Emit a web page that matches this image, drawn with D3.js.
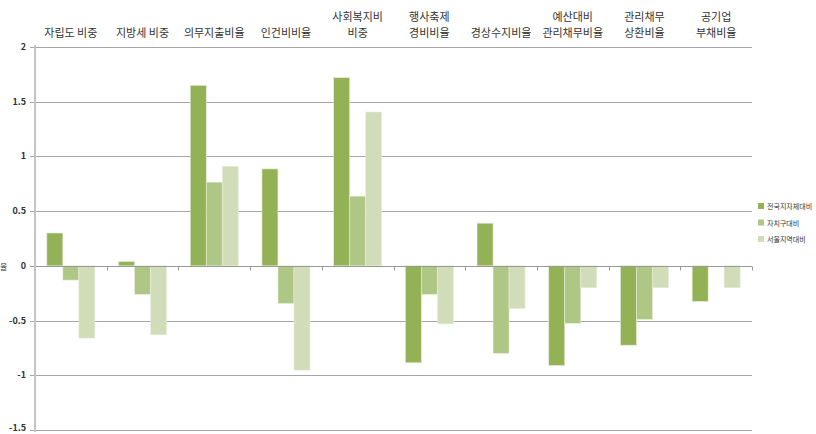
<!DOCTYPE html>
<html><head><meta charset="utf-8">
<script src="https://cdn.jsdelivr.net/npm/d3@7/dist/d3.min.js"></script>
<style>body{margin:0;background:#fff}svg{display:block}text{font-family:"Noto Sans CJK KR","Noto Sans",sans-serif}</style>
</head><body><svg id="c" width="816" height="434"></svg>
<script>
const categories = [["자립도 비중"],["지방세 비중"],["의무지출비율"],["인건비비율"],["사회복지비","비중"],["행사축제","경비비율"],["경상수지비율"],["예산대비","관리채무비율"],["관리채무","상환비율"],["공기업","부채비율"]];
const seriesNames = ["전국지자체대비","자치구대비","서울지역대비"];
const nationwide = [0.30, 0.04, 1.65, 0.886, 1.72, -0.886, 0.39, -0.91, -0.725, -0.325];
const district   = [-0.13, -0.26, 0.765, -0.344, 0.637, -0.26, -0.80, -0.525, -0.49, null];
const seoul      = [-0.66, -0.63, 0.91, -0.953, 1.406, -0.53, -0.39, -0.20, -0.20, -0.20];
const yTicks = [2, 1.5, 1, 0.5, 0, -0.5, -1, -1.5];
const colors = ["#93b155", "#afc785", "#d0ddb8"];

const svg = d3.select("#c");
const x0 = d3.scaleBand().domain(d3.range(categories.length)).range([35, 752]).padding(0);
const x1 = d3.scaleBand().domain([0,1,2]).range([0, x0.bandwidth()]).paddingInner(0).paddingOuter(0.74);
const y = d3.scaleLinear().domain([-1.5, 2]).range([430, 47]);

// gridlines
svg.append("g").selectAll("line").data(yTicks.filter(d => d !== 0)).join("line")
  .attr("x1", 30).attr("x2", 752).attr("y1", d => Math.round(y(d)) + 0.5).attr("y2", d => Math.round(y(d)) + 0.5)
  .attr("stroke", "#a6a6a6").attr("stroke-width", 1);

// y axis labels
svg.append("g").selectAll("text").data(yTicks).join("text")
  .attr("x", 26).attr("y", d => Math.min(y(d) + 3, 431)).attr("text-anchor", "end")
  .attr("font-size", 9).attr("font-weight", "bold").attr("fill", "#333")
  .text(d => d);

// bars
const series = [nationwide, district, seoul];
const bars = [];
series.forEach((vals, s) => vals.forEach((v, i) => { if (v !== null) bars.push({s, i, v}); }));
svg.append("g").selectAll("rect").data(bars).join("rect")
  .attr("x", d => x0(d.i) + x1(d.s))
  .attr("width", x1.bandwidth())
  .attr("y", d => Math.min(y(d.v), y(0)))
  .attr("height", d => Math.abs(y(d.v) - y(0)))
  .attr("fill", d => colors[d.s])
  .attr("stroke", "#e6eedb").attr("stroke-width", 0.6);

// zero line with ticks
const y0 = Math.round(y(0)) + 0.5;
svg.append("line").attr("x1", 30).attr("x2", 752).attr("y1", y0).attr("y2", y0)
  .attr("stroke", "#999").attr("stroke-width", 1);
svg.append("g").selectAll("line").data(d3.range(1, categories.length + 1)).join("line")
  .attr("x1", i => Math.round(x0(0) + i * x0.bandwidth()) + 0.5)
  .attr("x2", i => Math.round(x0(0) + i * x0.bandwidth()) + 0.5)
  .attr("y1", y0).attr("y2", y0 + 4).attr("stroke", "#999");

// y axis line
svg.append("line").attr("x1", 35).attr("x2", 35).attr("y1", 45).attr("y2", 432)
  .attr("stroke", "#c4c4c4").attr("stroke-width", 2);

// category labels
const lab = svg.append("g").selectAll("text").data(categories).join("text")
  .attr("text-anchor", "middle").attr("font-size", 11).attr("fill", "#333");
lab.each(function(lines, i) {
  const t = d3.select(this);
  const cx = x0(i) + x0.bandwidth() / 2;
  lines.forEach((ln, k) => {
    t.append("tspan").attr("x", cx).attr("y", lines.length === 1 ? 37 : 21 + k * 16).text(ln);
  });
});

// y axis title
svg.append("text").attr("x", 0).attr("y", 270).attr("font-size", 8).attr("fill", "#333").text("율");

// legend
const lg = svg.append("g").selectAll("g").data(seriesNames).join("g")
  .attr("transform", (d, i) => `translate(758, ${203 + i * 16.5})`);
lg.append("rect").attr("width", 6).attr("height", 6).attr("fill", (d, i) => colors[i]);
lg.append("text").attr("x", 9).attr("y", 6).attr("font-size", 7).attr("fill", "#333").text(d => d);
</script></body></html>
